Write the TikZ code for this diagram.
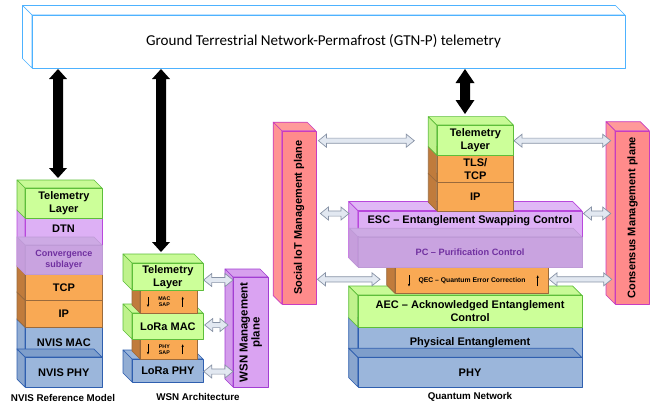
\documentclass[tikz,border=0pt]{standalone}
\usepackage{fontspec}
\setmainfont{Liberation Sans}
\newfontfamily\calib{Carlito}
\usetikzlibrary{calc,arrows.meta}

\definecolor{GF}{HTML}{CCFF99}\definecolor{GT}{HTML}{C8FA96}\definecolor{GS}{HTML}{BFF28C}\definecolor{GB}{HTML}{5DBE3A}
\definecolor{OF}{HTML}{F9A954}\definecolor{OT}{HTML}{F9A954}\definecolor{OS}{HTML}{C07B3C}\definecolor{OB}{HTML}{9A6A3C}
\definecolor{PF}{HTML}{DDB0F5}\definecolor{PT}{HTML}{E0B8F6}\definecolor{PS}{HTML}{D8A8F0}\definecolor{PB}{HTML}{B848DC}
\definecolor{QF}{HTML}{C9A3E0}\definecolor{QT}{HTML}{CDAAE4}\definecolor{QS}{HTML}{C69EDC}\definecolor{QB}{HTML}{BE9AD6}
\definecolor{BF}{HTML}{9BB6DB}\definecolor{BT}{HTML}{9BB6DB}\definecolor{BS}{HTML}{92ADD3}\definecolor{BB}{HTML}{2F5FAF}
\definecolor{DF}{HTML}{9BB6DB}\definecolor{DT}{HTML}{7E9ECB}\definecolor{DS}{HTML}{8AA6CE}\definecolor{DB}{HTML}{2F5FAF}
\definecolor{RF}{HTML}{FF8B8B}\definecolor{RT}{HTML}{FF9A9A}\definecolor{RS}{HTML}{FF9494}\definecolor{RB}{HTML}{C83CC0}
\definecolor{WF}{HTML}{DAA3F2}\definecolor{WT}{HTML}{D7A0EE}\definecolor{WS}{HTML}{D39CEB}\definecolor{WB}{HTML}{A23ED2}
\definecolor{NF}{HTML}{FFFFFF}\definecolor{NT}{HTML}{FFFFFF}\definecolor{NS}{HTML}{FFFFFF}\definecolor{NB}{HTML}{4DB2FF}
\definecolor{AF}{HTML}{E2E8F1}\definecolor{AB}{HTML}{8893A6}
\definecolor{PCtext}{HTML}{7030A0}

% name, x1, y1, x2, y2, palette, depth, text options, text
\newcommand{\cube}[9]{%
  \path[draw=#6B, fill=#6T, cubeline] (#2,#3) -- (#2-#7,#3-#7) -- (#4-#7,#3-#7) -- (#4,#3) -- cycle;
  \path[draw=#6B, fill=#6S, cubeline] (#2,#3) -- (#2-#7,#3-#7) -- (#2-#7,#5-#7) -- (#2,#5) -- cycle;
  \node[draw=#6B, fill=#6F, cubeline, inner sep=0pt, anchor=north west,
        minimum width={(#4-#2)*1pt}, minimum height={(#5-#3)*1pt}, align=center, #8] (#1) at (#2,#3) {#9};
}
% vertical black double arrow: top, bottom, head length, head half width
\newcommand{\varrow}[4]{%
  \path[fill=black] let \p1=#1, \p2=#2 in
   (\x1,\y1) -- (\x1+#4pt,\y1-#3pt) -- (\x1+5pt,\y1-#3pt) -- (\x1+5pt,\y2+#3pt) -- (\x1+#4pt,\y2+#3pt)
   -- (\x1,\y2) -- (\x1-#4pt,\y2+#3pt) -- (\x1-5pt,\y2+#3pt) -- (\x1-5pt,\y1-#3pt) -- (\x1-#4pt,\y1-#3pt) -- cycle;
}
% horizontal white double arrow: left, right
\newcommand{\harrow}[2]{%
  \path[warrow] let \p1=#1, \p2=#2 in
   (\x1,\y1) -- (\x1+8pt,\y1+6.5pt) -- (\x1+8pt,\y1+2.6pt) -- (\x2-8pt,\y1+2.6pt) -- (\x2-8pt,\y1+6.5pt)
   -- (\x2,\y1) -- (\x2-8pt,\y1-6.5pt) -- (\x2-8pt,\y1-2.6pt) -- (\x1+8pt,\y1-2.6pt) -- (\x1+8pt,\y1-6.5pt) -- cycle;
}

\begin{document}
\begin{tikzpicture}[x=1pt,y=-1pt,
  cubeline/.style={line width=0.7pt, line join=round},
  lbl/.style={font=\fontsize{11}{12.8}\selectfont\bfseries},
  conv/.style={font=\fontsize{9}{11}\selectfont\bfseries, text=PCtext},
  pcf/.style={font=\fontsize{9.2}{11}\selectfont\bfseries, text=PCtext},
  qecf/.style={font=\fontsize{6.8}{8}\selectfont\bfseries},
  sapf/.style={font=\fontsize{5.3}{6}\selectfont\bfseries, align=center, inner sep=0pt},
  capt/.style={font=\fontsize{9.8}{11}\selectfont\bfseries},
  warrow/.style={fill=AF, draw=AB, line width=0.7pt, line join=miter},
  sapar/.style={line width=0.6pt, -{Stealth[length=2.6pt,width=2.4pt]}}]

\useasboundingbox (0,0) rectangle (662,405);

% banner
\cube{ban}{32}{15}{625}{68}{N}{9.5}{line width=1pt}{}
\node[font={\calib\fontsize{15.1}{17}\selectfont}] (bant) at (323.5,41.5) {Ground Terrestrial Network-Permafrost (GTN-P) telemetry};

% NVIS stack
\cube{nmac}{25}{327}{102}{357}{B}{8}{lbl}{NVIS MAC}
\cube{nphy}{25}{357}{102}{387}{D}{8}{lbl}{NVIS PHY}
\cube{nip}{25}{300}{102}{327}{O}{8}{lbl}{IP}
\cube{ntcp}{25}{274}{102}{300}{O}{8}{lbl}{TCP}
\cube{ndtn}{25}{218}{102}{274}{P}{8}{}{}
\cube{nconv}{25}{245}{102}{274}{Q}{8}{conv}{Convergence\\sublayer}
\node[lbl] (ndtnt) at (63.5,229) {DTN};
\cube{ntel}{25}{188}{102}{218}{G}{8}{lbl}{Telemetry\\Layer}

% WSN stack
\cube{lphy}{132}{359}{203}{382}{B}{9}{lbl}{LoRa PHY}
\cube{psap}{140}{339}{197}{359}{O}{8}{}{}
\cube{lmac}{132}{313}{203}{339}{G}{9}{lbl}{LoRa MAC}
\cube{msap}{140}{290}{197}{313}{O}{8}{}{}
\cube{wtel}{132}{263}{203}{290}{G}{9}{lbl}{Telemetry\\Layer}
\node[sapf] (msapt) at ($(msap.center)+(-4.5,0)$) {MAC\\SAP};
\node[sapf] (psapt) at ($(psap.center)+(-4.5,0)$) {PHY\\SAP};
\draw[sapar] ($(msap.west)+(8,-5)$) -- ($(msap.west)+(8,5)$);
\draw[sapar] ($(msap.east)+(-15,5)$) -- ($(msap.east)+(-15,-5)$);
\draw[sapar] ($(psap.west)+(8,-5)$) -- ($(psap.west)+(8,5)$);
\draw[sapar] ($(psap.east)+(-15,5)$) -- ($(psap.east)+(-15,-5)$);
\cube{wsn}{233}{277}{268}{387}{W}{8}{}{}
\node[font=\fontsize{11.5}{12}\selectfont\bfseries, rotate=90, align=center] (wsnt) at (wsn) {WSN Management\\plane};

% Quantum stack
\cube{qpe}{357.7}{326.7}{581.7}{357.3}{B}{9}{lbl}{Physical Entanglement}
\cube{qphy}{357.7}{357.3}{581.7}{386.7}{D}{9}{lbl}{PHY}
\cube{qaec}{357.7}{295}{581.7}{326.7}{G}{9}{lbl}{AEC – Acknowledged Entanglement\\Control}
\cube{qec}{395}{266.7}{548.3}{293.3}{O}{8.3}{qecf}{QEC – Quantum Error Correction}
\draw[sapar] ($(qec.west)+(14,-5)$) -- ($(qec.west)+(14,6)$);
\draw[sapar] ($(qec.east)+(-11.3,6)$) -- ($(qec.east)+(-11.3,-5)$);
\cube{esc}{357.7}{210.5}{581.7}{266.7}{P}{9}{}{}
\cube{pc}{357.7}{236.7}{581.7}{266.7}{Q}{8.4}{pcf}{PC – Purification Control}
\node[lbl] (esct) at (470,221) {ESC – Entanglement Swapping Control};
\cube{qip}{436.7}{181.7}{513.3}{210.5}{O}{8.4}{lbl}{IP}
\cube{qtls}{436.7}{155}{513.3}{181.7}{O}{8.4}{lbl}{TLS/\\TCP}
\cube{qtel}{436.7}{125}{513.3}{155}{G}{8.4}{lbl}{Telemetry\\Layer}

% management planes
\cube{soc}{281.7}{130.7}{315.7}{304}{R}{8.5}{}{}
\node[lbl, rotate=90] (soct) at (soc) {Social IoT Management plane};
\cube{con}{615}{130.7}{649.3}{304}{R}{9}{}{}
\node[lbl, rotate=90] (cont) at (con) {Consensus Management plane};

% captions
\node[capt] (c1) at (63,398) {NVIS Reference Model};
\node[capt] (c2) at (198,397) {WSN Architecture};
\node[capt] (c3) at (470,397) {Quantum Network};

% black arrows
\coordinate (la) at (58,178);
\coordinate (ma) at (161,252);
\coordinate (ra) at (465,114);
\varrow{(ban.south -| la)}{(la)}{10}{9}
\varrow{(ban.south -| ma)}{(ma)}{10}{9}
\varrow{(ban.south -| ra)}{(ra)}{14}{9.5}

% white arrows
\coordinate (w1) at (0,280);
\coordinate (w2) at (0,325);
\coordinate (w3) at (0,371.5);
\harrow{(wtel.east |- w1)}{(wsn.west |- w1)}
\harrow{($(lmac.east |- w2)+(1,0)$)}{($(wsn.west |- w2)+(-5,0)$)}
\harrow{(lphy.east |- w3)}{(wsn.west |- w3)}
\coordinate (q1) at (0,140.7);
\coordinate (q2) at (0,213.5);
\coordinate (q3) at (0,279.3);
\harrow{($(soc.east |- q1)+(2,0)$)}{($(qtel.west |- q1)+(-22.4,0)$)}
\harrow{(qtel.east |- q1)}{($(con.west |- q1)+(-4.3,0)$)}
\harrow{($(soc.east |- q2)+(4,0)$)}{($(esc.west |- q2)+(-8.7,0)$)}
\harrow{($(esc.east |- q2)+(1,0)$)}{($(con.west |- q2)+(-4.3,0)$)}
\harrow{($(soc.east |- q3)+(1,0)$)}{($(qec.west |- q3)+(-15,0)$)}
\harrow{(qec.east |- q3)}{($(con.west |- q3)+(-3.3,0)$)}
\end{tikzpicture}
\end{document}
